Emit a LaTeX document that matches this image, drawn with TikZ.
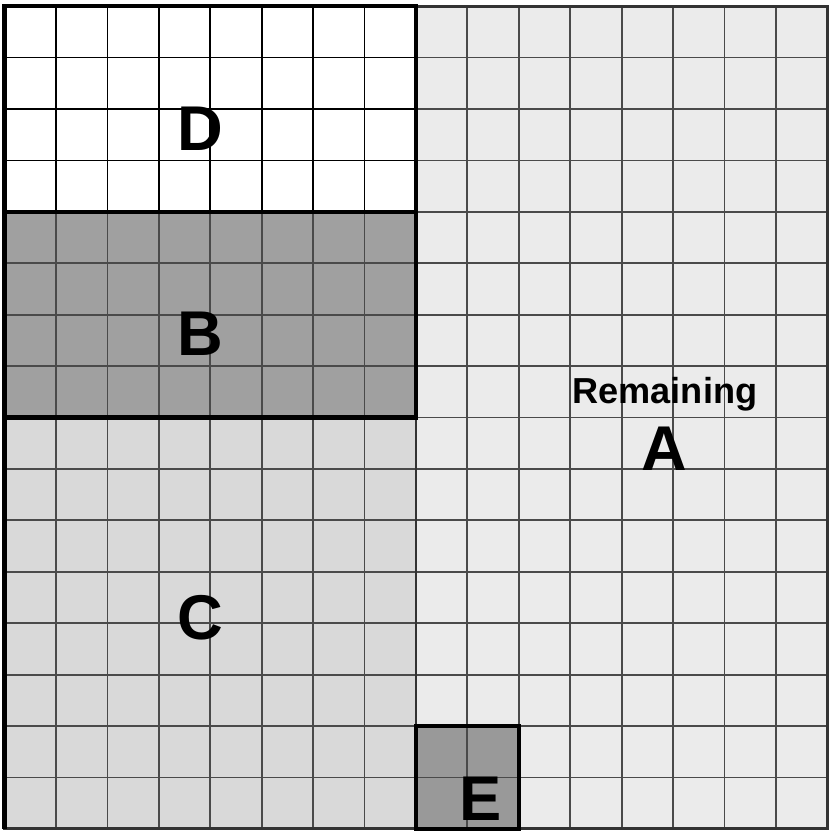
\documentclass[tikz,border=0pt]{standalone}
\usepackage{fontspec}
\setmainfont{Liberation Sans}
\usetikzlibrary{positioning}
\definecolor{remgray}{HTML}{EBEBEB}
\definecolor{cgray}{HTML}{D9D9D9}
\definecolor{bgray}{HTML}{A0A0A0}
\definecolor{egray}{HTML}{999999}
\definecolor{gridgray}{HTML}{4A4A4A}
\definecolor{edgegray}{HTML}{333333}

\begin{document}
\begin{tikzpicture}[
  gridline/.style={gridgray, line width=1pt},
  blockedge/.style={black, line width=2.4pt},
  biglabel/.style={font=\fontsize{35}{40}\selectfont\bfseries, anchor=base, inner sep=0pt},
  smalllabel/.style={font=\fontsize{20}{24}\selectfont\bfseries, anchor=base, inner sep=0pt}]

\useasboundingbox (-0.09,-0.1) rectangle (16.1,16.12);

%% Region fills
\fill[remgray] (0,0) rectangle (16,16);
\fill[cgray] (0,0) rectangle (8,8);
\fill[bgray] (0,8) rectangle (8,12);
\fill[white] (0,12) rectangle (8,16);
\fill[egray] (8,0) rectangle (10,2);

% Grid of cells
\draw[gridline] (0,0) grid (16,16);
\draw[black, line width=1pt] (0,12) grid (8,16);

% Outer edge
\draw[edgegray, line width=1.6pt] (0,0) rectangle (16,16);
\draw[edgegray, line width=1.4pt] (8,0) -- (8,8);

%% Block outlines
\draw[blockedge] (0,12) rectangle (8,16);
\draw[blockedge] (0,8) rectangle (8,12);
\draw[blockedge] (0,0) -- (0,8);
\draw[blockedge] (8,0) rectangle (10,2);

%% Labels
\node[biglabel] (labD) at (3.81,13.2) {D};
\node[biglabel] (labB) at (3.81,9.2) {B};
\node[biglabel] (labC) at (3.81,3.68) {C};
\node[smalllabel] (labRem) at (12.84,8.27) {Remaining};
\node[biglabel] (labA) at (12.83,6.96) {A};
\node[biglabel] (labE) at (9.25,0.16) {E};

\end{tikzpicture}
\end{document}
